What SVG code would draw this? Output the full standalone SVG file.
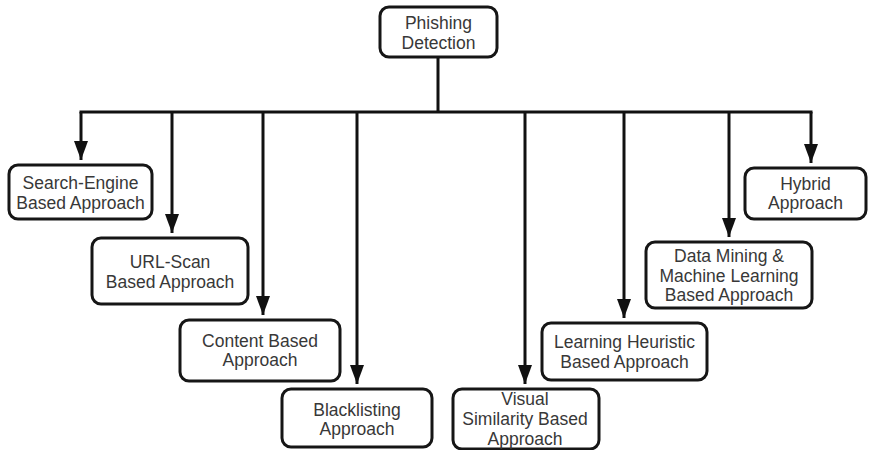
<svg xmlns="http://www.w3.org/2000/svg" width="873" height="450" viewBox="0 0 873 450">
<defs>
<marker id="ah" markerUnits="userSpaceOnUse" markerWidth="20" markerHeight="16" viewBox="0 0 20 16" refX="19" refY="8" orient="auto">
<path d="M0,1 L19,8 L0,15 Z" fill="#111"/>
</marker>
<style>
.box{fill:#fff;stroke:#161616;stroke-width:3}
.t{font-family:"Liberation Sans",Arial,sans-serif;font-size:17.5px;fill:#383838;text-anchor:middle}
.c{fill:none;stroke:#111;stroke-width:3}
</style>
</defs>
<rect width="873" height="450" fill="#fff"/>
<g id="connectors">
<path class="c" d="M438,57 V112 M79.5,112 H812.5"/>
<path class="c" d="M81,112 V160" marker-end="url(#ah)"/>
<path class="c" d="M172,112 V233" marker-end="url(#ah)"/>
<path class="c" d="M263,112 V315" marker-end="url(#ah)"/>
<path class="c" d="M357,112 V384" marker-end="url(#ah)"/>
<path class="c" d="M525,112 V384" marker-end="url(#ah)"/>
<path class="c" d="M624,112 V318" marker-end="url(#ah)"/>
<path class="c" d="M729,112 V237" marker-end="url(#ah)"/>
<path class="c" d="M811,112 V163" marker-end="url(#ah)"/>
</g>
<g id="root"><rect class="box" x="380" y="7" width="117" height="50" rx="9"/><text class="t" x="438.5" y="29">Phishing</text><text class="t" x="438.5" y="49">Detection</text></g>
<g id="search"><rect class="box" x="9" y="165" width="143" height="54" rx="9"/><text class="t" x="80.5" y="188.5">Search-Engine</text><text class="t" x="80.5" y="208.5">Based Approach</text></g>
<g id="url"><rect class="box" x="92" y="238" width="156" height="66" rx="9"/><text class="t" x="170" y="268">URL-Scan</text><text class="t" x="170" y="288">Based Approach</text></g>
<g id="content"><rect class="box" x="180" y="320" width="160" height="61" rx="9"/><text class="t" x="260" y="347">Content Based</text><text class="t" x="260" y="366">Approach</text></g>
<g id="blacklisting"><rect class="box" x="282" y="389" width="150" height="58" rx="9"/><text class="t" x="357" y="416">Blacklisting</text><text class="t" x="357" y="435">Approach</text></g>
<g id="visual"><rect class="box" x="453" y="389" width="146" height="60" rx="9"/><text class="t" x="525" y="405">Visual</text><text class="t" x="525" y="425">Similarity Based</text><text class="t" x="525" y="445">Approach</text></g>
<g id="heuristic"><rect class="box" x="542" y="323" width="165" height="57" rx="9"/><text class="t" x="624.5" y="348">Learning Heuristic</text><text class="t" x="624.5" y="368">Based Approach</text></g>
<g id="datamining"><rect class="box" x="646" y="242" width="166" height="66" rx="9"/><text class="t" x="729" y="262">Data Mining &amp;</text><text class="t" x="729" y="282">Machine Learning</text><text class="t" x="729" y="301">Based Approach</text></g>
<g id="hybrid"><rect class="box" x="745" y="168" width="121" height="51" rx="9"/><text class="t" x="805.5" y="190">Hybrid</text><text class="t" x="805.5" y="209">Approach</text></g>
</svg>
